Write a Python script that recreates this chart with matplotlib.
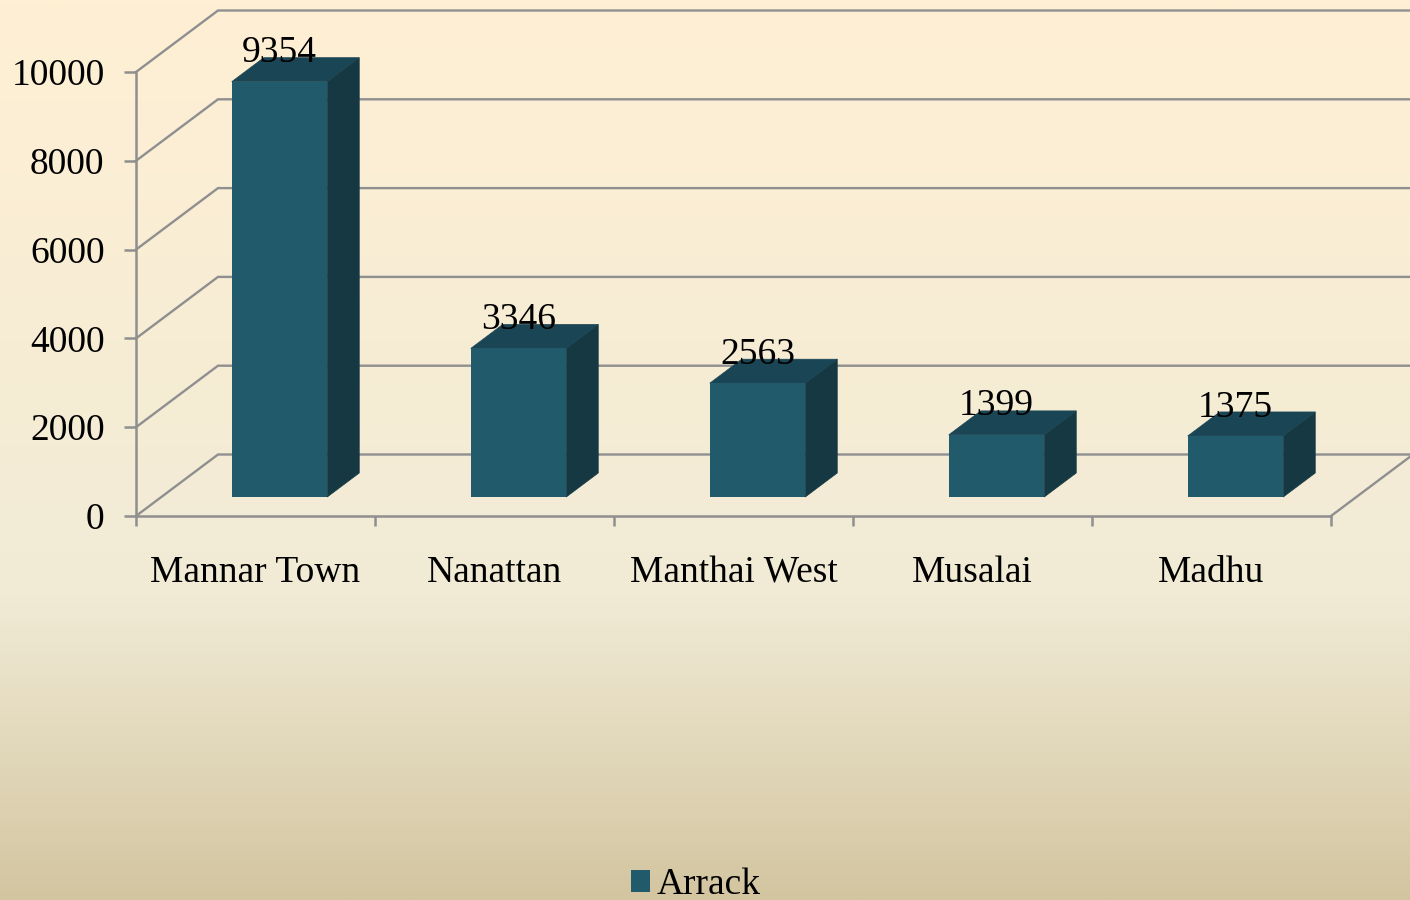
import numpy as np
import matplotlib
matplotlib.use("Agg")
import matplotlib.pyplot as plt
from matplotlib.colors import LinearSegmentedColormap
from matplotlib.patches import Polygon, Patch

categories = ["Mannar Town", "Nanattan", "Manthai West", "Musalai", "Madhu"]
values = [9354, 3346, 2563, 1399, 1375]
series_name = "Arrack"
y_ticks = [0, 2000, 4000, 6000, 8000, 10000]

W, H = 1410, 900
plt.rcParams['font.family'] = ['Liberation Serif', 'DejaVu Serif']
FS = 27.0
GRID = '#8f8f8f'
FRONT, TOP, SIDE = '#215a6a', '#1a4554', '#153843'

fig = plt.figure(figsize=(W/100, H/100), dpi=100)

# background gradient
bg = fig.add_axes([0, 0, 1, 1], zorder=0)
bg.axis('off')
cmap = LinearSegmentedColormap.from_list('bg', [
    (0.0, '#FFF0D5'), (0.33, '#F8EDD4'), (0.66, '#F1EBD6'), (1.0, '#D3C5A0')])
bg.imshow(np.linspace(0, 1, 512)[:, None], cmap=cmap, aspect='auto', extent=[0, 1, 0, 1])

# axes = front plane of the 3-D box
L, R, B, T = 136, 1331, 516, 72
ax = fig.add_axes([L/W, 1-B/H, (R-L)/W, (B-T)/H], zorder=1)
ax.patch.set_alpha(0)
ax.set_xlim(0, 5)
ax.set_ylim(0, 10000)
px_x = 5/(R-L)
px_y = 10000/(B-T)
wall_dx, wall_dy = 82*px_x, 61.5*px_y
front_dx, front_dy = 24*px_x, 19*px_y
side_dx, side_dy = 32*px_x, 24*px_y
bar_w = 95.5*px_x

# grid: diagonals on side wall and lines on back wall
for t in y_ticks:
    ax.plot([0, wall_dx, 5+wall_dx], [t, t+wall_dy, t+wall_dy], color=GRID, lw=1.7,
            clip_on=False, zorder=1, solid_joinstyle='miter')
ax.plot([5, 5+wall_dx], [0, wall_dy], color=GRID, lw=1.7, clip_on=False, zorder=1)

# bars
for i, v in enumerate(values):
    x0 = i + 0.5 + front_dx - bar_w/2
    x1 = x0 + bar_w
    y0 = front_dy
    y1 = front_dy + v
    ax.add_patch(Polygon([(x1, y0), (x1+side_dx, y0+side_dy), (x1+side_dx, y1+side_dy), (x1, y1)],
                         fc=SIDE, ec=SIDE, lw=0.5, zorder=3, clip_on=False))
    ax.add_patch(Polygon([(x0, y1), (x1, y1), (x1+side_dx, y1+side_dy), (x0+side_dx, y1+side_dy)],
                         fc=TOP, ec=TOP, lw=0.5, zorder=3, clip_on=False))
    ax.add_patch(Polygon([(x0, y0), (x1, y0), (x1, y1), (x0, y1)], fc=FRONT, ec='none', zorder=4, clip_on=False))
    ax.annotate(str(v), xy=((x0+x1)/2, y1), xytext=(0, 14.0), textcoords='offset points',
                ha='center', va='baseline', fontsize=FS, color='black', zorder=5, annotation_clip=False)

# axes styling
for s in ['top', 'right']:
    ax.spines[s].set_visible(False)
for s in ['left', 'bottom']:
    ax.spines[s].set_color(GRID)
    ax.spines[s].set_linewidth(1.8)
ax.set_yticks(y_ticks)
ax.set_yticklabels([str(t) for t in y_ticks])
ax.set_xticks(range(6))
ax.set_xticklabels([])
ax.set_xticks(np.arange(5)+0.5, categories, minor=True)
ax.tick_params(axis='y', length=8.6, width=1.8, color=GRID, pad=14.0, labelsize=FS)
ax.tick_params(axis='x', which='major', length=7.5, width=1.8, color=GRID)
ax.tick_params(axis='x', which='minor', length=0, pad=28.5, labelsize=FS)

# legend
fig.legend(handles=[Patch(fc=FRONT, ec='none', label=series_name)], loc='lower left',
           bbox_to_anchor=(597/W, -36/H), frameon=False, fontsize=FS,
           handlelength=0.5, handleheight=0.5, handletextpad=0.2)

fig.savefig('out.png', dpi=100)
